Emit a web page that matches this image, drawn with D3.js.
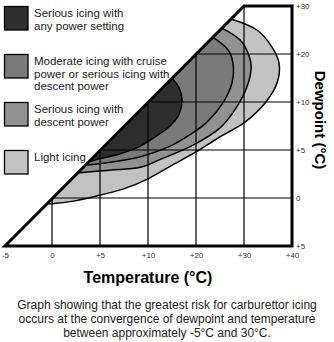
<!DOCTYPE html>
<html><head><meta charset="utf-8">
<script src="https://cdn.jsdelivr.net/npm/d3@7"></script>
<style>body{margin:0;background:#fff}svg{display:block;font-family:Arial,"Liberation Sans",sans-serif}</style>
</head><body><svg id="c" width="334" height="342"></svg>
<script>
// Axis breakpoints (non-uniform labelled grid) and tick labels
const tempTicks = [-5, 0, 5, 10, 20, 30, 40];
const tempLabels = ["-5", "0", "+5", "+10", "+20", "+30", "+40"];
const dewTicks = [-5, 0, 5, 10, 20, 30];
const dewLabels = ["+5", "0", "+5", "+10", "+20", "+30"];

// Region boundaries [temperature, dewpoint]
const lightIcing = [[27.3,27.3],[32.7,25.0],[35.8,21.5],[37.3,18.1],[36.9,14.0],[34.4,9.9],[30.2,7.9],[24.6,6.25],[20,4.8],[14.6,3.3],[10,2.0],[7.6,1.0],[5,0.3],[2.4,-0.3],[0,-0.6],[-0.6,-0.6]];
const seriousDescent = [[25.4,25.4],[29.2,22.9],[31.0,19.8],[31.5,17.3],[30.6,13.1],[28.5,9.5],[25,7.3],[19.4,5.5],[12.5,4.0],[9.2,3.2],[6.0,2.9],[2.6,2.6]];
const moderateCruise = [[23.5,23.5],[26.7,20.8],[27.7,18.1],[27.5,14.0],[25.6,9.9],[22.3,7.9],[18.75,6.6],[14.6,5.4],[9.2,4.3],[6.25,3.75],[3.4,3.4]];
const seriousAny = [[15,15],[16.5,12.9],[17.1,10.4],[16.5,8.75],[14.6,7.5],[11.9,6.5],[9.2,5.4],[7.1,4.6],[5,4.1],[3.75,3.75]];

const regions = [
  {name:"Light icing", data:lightIcing, color:"#c2c2c2"},
  {name:"Serious icing with descent power", data:seriousDescent, color:"#929292"},
  {name:"Moderate", data:moderateCruise, color:"#7a7a7a"},
  {name:"Serious any", data:seriousAny, color:"#2e2e2e"}
];
const legendItems = [
  {lines:["Serious icing with","any power setting"], color:"#2e2e2e"},
  {lines:["Moderate icing with cruise","power or serious icing with","descent power"], color:"#7a7a7a"},
  {lines:["Serious icing with","descent power"], color:"#929292"},
  {lines:["Light icing"], color:"#c2c2c2"}
];

const svg = d3.select("#c");
const x = d3.scaleLinear().domain(tempTicks).range([5, 52, 100, 148, 196, 244, 292]);
const y = d3.scaleLinear().domain(dewTicks).range([246, 198, 150, 102, 54, 6]);

const line = d3.line().x(d => x(d[0])).y(d => y(d[1])).curve(d3.curveCatmullRom.alpha(0.5));

regions.forEach(r => {
  svg.append("path").attr("d", line(r.data) + "Z")
    .attr("fill", r.color).attr("stroke", "none");
});
regions.forEach(r => {
  svg.append("path").attr("d", line(r.data))
    .attr("fill", "none").attr("stroke", "#000").attr("stroke-width", 1.5);
});

// grid
const g = svg.append("g").attr("stroke", "#000").attr("stroke-width", 1.2);
[0, 5, 10, 20, 30].forEach(t => {
  g.append("line").attr("x1", x(t)).attr("x2", x(t)).attr("y1", y(-5)).attr("y2", y(t));
});
[0, 5, 10, 20].forEach(d => {
  g.append("line").attr("x1", x(d)).attr("x2", x(40)).attr("y1", y(d)).attr("y2", y(d));
});

// thick border
const border = [[-5,-5],[30,30],[40,30],[40,-5],[-5,-5]];
svg.append("path").attr("d", d3.line().x(d => x(d[0])).y(d => y(d[1]))(border) + "Z")
  .attr("fill", "none").attr("stroke", "#000").attr("stroke-width", 3).attr("stroke-linejoin", "miter");

// axes
const xa = svg.append("g").attr("transform", `translate(0,${y(-5) + 4})`)
  .call(d3.axisBottom(x).tickValues(tempTicks).tickFormat((d, i) => tempLabels[i]).tickSize(0).tickPadding(2));
xa.select(".domain").remove();
xa.selectAll("text").attr("font-size", 8).attr("fill", "#333").attr("font-family", "Arial, Liberation Sans, sans-serif");

const ya = svg.append("g").attr("transform", `translate(${x(40) + 3},0)`)
  .call(d3.axisRight(y).tickValues(dewTicks).tickFormat((d, i) => dewLabels[i]).tickSize(0).tickPadding(1));
ya.select(".domain").remove();
ya.selectAll("text").attr("font-size", 8).attr("fill", "#333").attr("font-family", "Arial, Liberation Sans, sans-serif");

// axis titles
svg.append("text").attr("x", 148).attr("y", 283).attr("text-anchor", "middle")
  .attr("font-size", 16).attr("font-weight", "bold").attr("fill", "#000").text("Temperature (°C)");
svg.append("text").attr("transform", "translate(315,120) rotate(90)").attr("text-anchor", "middle")
  .attr("font-size", 15).attr("font-weight", "bold").attr("fill", "#000").text("Dewpoint (°C)");

// legend
const legY = [6, 54, 102, 150];
legendItems.forEach((it, i) => {
  svg.append("rect").attr("x", 4.5).attr("y", legY[i] + 0.5).attr("width", 23.5).attr("height", 23.5)
    .attr("fill", it.color).attr("stroke", "#000").attr("stroke-width", 1.3);
  it.lines.forEach((l, j) => {
    svg.append("text").attr("x", 34).attr("y", legY[i] + 11 + j * 12.5)
      .attr("font-size", 11.5).attr("fill", "#222").text(l);
  });
});

// caption
const caption = ["Graph showing that the greatest risk for carburettor icing",
  "occurs at the convergence of dewpoint and temperature",
  "between approximately -5°C and 30°C."];
caption.forEach((c, i) => {
  svg.append("text").attr("x", 167).attr("y", 309 + i * 14).attr("text-anchor", "middle")
    .attr("font-size", 12).attr("fill", "#222").text(c);
});
</script></body></html>
